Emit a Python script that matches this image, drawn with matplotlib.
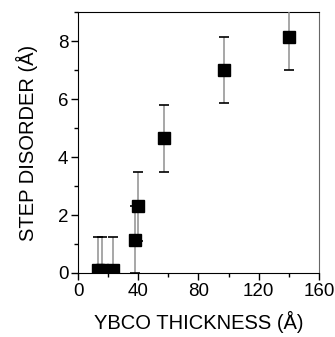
import numpy as np
import matplotlib
matplotlib.use('Agg')
import matplotlib.pyplot as plt
from matplotlib.ticker import MultipleLocator

# data
thickness = [13, 16, 23, 37.5, 40, 57, 97, 140]
disorder = [0.1, 0.1, 0.1, 1.15, 2.3, 4.65, 7.0, 8.15]
err = [1.15, 1.15, 1.15, 1.15, 1.2, 1.15, 1.15, 1.15]

plt.rcParams['font.family'] = ['Liberation Sans', 'DejaVu Sans']

fig = plt.figure(figsize=(3.35, 3.37), dpi=100)
ax = fig.add_axes([0.233, 0.19, 0.719, 0.774])

eb = ax.errorbar(thickness, disorder, yerr=err, fmt='s', color='black',
                 ms=8.3, ecolor='#909090', elinewidth=1.1, capsize=3.6,
                 capthick=1.2, zorder=3)
for cap in eb[1]:
    cap.set_markeredgecolor('black')

ax.set_xlim(0, 160)
ax.set_ylim(0, 9)
ax.xaxis.set_major_locator(MultipleLocator(40))
ax.xaxis.set_minor_locator(MultipleLocator(20))
ax.yaxis.set_major_locator(MultipleLocator(2))
ax.yaxis.set_minor_locator(MultipleLocator(1))
ax.tick_params(which='both', direction='out', top=False, right=False,
               labelsize=13.5, width=1)
ax.tick_params(which='major', length=5, pad=2)
ax.tick_params(which='minor', length=3)
ax.spines['right'].set_color('#666666')

ax.set_xlabel('YBCO THICKNESS (Å)', fontsize=14.5, labelpad=8)
ax.set_ylabel('STEP DISORDER (Å)', fontsize=14.5, labelpad=14)

fig.savefig('out.png', dpi=100)
